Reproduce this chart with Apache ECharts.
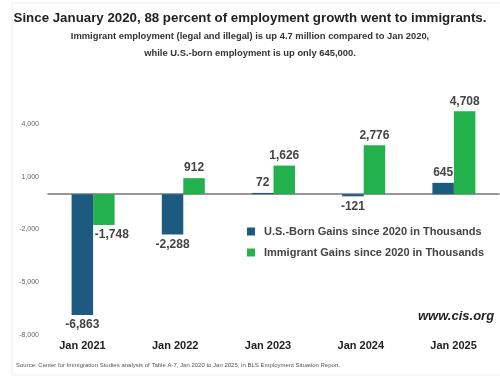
<!DOCTYPE html>
<html><head><meta charset="utf-8">
<script src="https://cdn.jsdelivr.net/npm/echarts@6/dist/echarts.min.js"></script>
<style>html,body{margin:0;padding:0;background:#fff}#c{width:500px;height:384px}</style>
</head><body><div id="c"></div>
<script>
const categories = ['Jan 2021', 'Jan 2022', 'Jan 2023', 'Jan 2024', 'Jan 2025'];
const usBorn = [-6863, -2288, 72, -121, 645];
const immigrant = [-1748, 912, 1626, 2776, 4708];
const yTicks = { min: -8000, max: 7000, interval: 3000 };

const F = '"Liberation Sans", Arial, sans-serif';
const chart = echarts.init(document.getElementById('c'));
const lbl = (v) => echarts.format.addCommas(v);
function seriesData(arr, negOffset) {
  return arr.map(v => ({
    value: v,
    label: v < 0 ? { position: 'bottom', offset: negOffset } : { position: 'top' }
  }));
}
const baseLabel = {
  show: true, fontFamily: F, fontWeight: 'bold', fontSize: 12, color: '#444', distance: 4,
  formatter: p => lbl(p.value)
};
chart.setOption({
  animation: false,
  title: [
    { text: 'Since January 2020, 88 percent of employment growth went to immigrants.', left: 'center', top: 7,
      textStyle: { fontFamily: F, fontWeight: 'bold', fontSize: 13.3, color: '#222' } },
    { text: 'Immigrant employment (legal and illegal) is up 4.7 million compared to Jan 2020,\nwhile U.S.-born employment is up only 645,000.',
      left: 'center', top: 23,
      textStyle: { fontFamily: F, fontWeight: 'bold', fontSize: 9.4, color: '#333', lineHeight: 17, align: 'center' } }
  ],
  legend: {
    orient: 'vertical', left: 242, top: 221, itemGap: 10, itemWidth: 8, itemHeight: 8,
    icon: 'rect',
    textStyle: { fontFamily: F, fontWeight: 'bold', fontSize: 11, color: '#444', padding: [0, 0, 0, 4] },
    data: ['U.S.-Born Gains since 2020 in Thousands', 'Immigrant Gains since 2020 in Thousands']
  },
  grid: [
    { left: 48, width: 451, top: 71, height: 264 },
    { left: 36, width: 473, top: 71, height: 264 }
  ],
  xAxis: [
    { type: 'category', gridIndex: 0, data: categories,
      axisLine: { lineStyle: { color: '#777', width: 1.5 } }, axisTick: { show: false }, axisLabel: { show: false } },
    { type: 'category', gridIndex: 1, data: categories, position: 'bottom',
      axisLine: { show: false }, axisTick: { show: false },
      axisLabel: { fontFamily: F, fontWeight: 'bold', fontSize: 11, color: '#222', margin: 5 } }
  ],
  yAxis: [
    { type: 'value', gridIndex: 0, min: yTicks.min, max: yTicks.max, interval: yTicks.interval,
      splitLine: { show: false }, axisLine: { show: false }, axisTick: { show: false },
      axisLabel: { showMaxLabel: false, fontFamily: F, fontSize: 7, color: '#666', margin: 9,
        formatter: v => lbl(v) } },
    { type: 'value', gridIndex: 1, min: yTicks.min, max: yTicks.max, show: false }
  ],
  series: [
    { name: 'U.S.-Born Gains since 2020 in Thousands', type: 'bar', data: seriesData(usBorn, [0, 0]),
      barWidth: 21.5, barGap: '0%', itemStyle: { color: '#1d5a80' }, label: baseLabel },
    { name: 'Immigrant Gains since 2020 in Thousands', type: 'bar', data: seriesData(immigrant, [8, 0]),
      barWidth: 21.5, barGap: '0%', itemStyle: { color: '#22b14c' }, label: baseLabel }
  ],
  graphic: [
    { type: 'rect', shape: { x: 12, y: 3, width: 492, height: 372 }, style: { fill: 'none', stroke: '#eee', lineWidth: 1 }, z: -1 },
    { type: 'text', left: 418, top: 310, style: { text: 'www.cis.org', fontFamily: F, fontWeight: 'bold', fontStyle: 'italic', fontSize: 13, fill: '#222' } },
    { type: 'text', left: 16, top: 362, style: { text: 'Source: Center for Immigration Studies analysis of Table A-7, Jan 2020 to Jan 2025, in BLS Employment Situation Report.', fontFamily: F, fontSize: 6, fill: '#555' } }
  ]
});
</script></body></html>
